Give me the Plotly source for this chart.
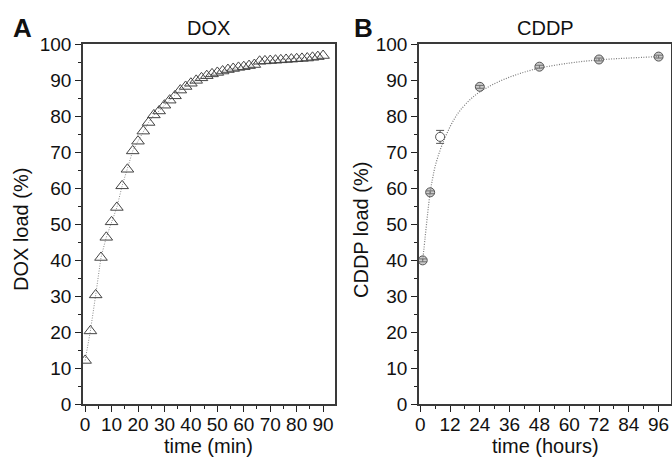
import plotly.graph_objects as go

# ---- Data ----
dox_time = list(range(0, 92, 2))
dox_load = [12.1, 20.3, 30.3, 40.7, 46.3, 50.6, 54.6, 60.6, 65.2, 70.3,
            73.0, 75.8, 78.2, 80.3, 81.4, 83.0, 84.4, 85.6, 87.2, 88.2,
            89.1, 89.9, 90.6, 91.2, 91.7, 92.1, 92.5, 92.9, 93.2, 93.5,
            93.7, 94.0, 94.3, 95.2, 95.3, 95.4, 95.5, 95.6, 95.7, 95.8,
            95.9, 96.0, 96.1, 96.3, 96.5, 96.8]

cddp_time = [1, 4, 8, 24, 48, 72, 96]
cddp_load = [39.9, 58.8, 74.2, 88.1, 93.7, 95.7, 96.5]
cddp_err = [0.4, 0.4, 1.8, 0.4, 0.4, 0.4, 0.4]

fit_time = [1, 2, 3, 4, 5, 6, 8, 10, 12, 14, 16, 20, 24, 30, 36, 42, 48, 60, 72, 84, 96]
fit_load = [40.0, 46.5, 53.0, 58.8, 62.7, 66.0, 70.5, 74.0, 77.0, 79.5, 81.5,
            84.5, 86.7, 89.0, 90.8, 92.2, 93.3, 94.7, 95.6, 96.1, 96.5]

FONT = "Liberation Sans"
W, H = 672, 457

fig = go.Figure()

fig.add_trace(go.Scatter(
    x=dox_time, y=dox_load, mode="lines+markers", xaxis="x", yaxis="y",
    line=dict(color="#8a8a8a", width=1, dash="1px,1.5px"),
    marker=dict(symbol="triangle-up-open", size=11, color="#444444",
                line=dict(width=1)),
    showlegend=False))

fig.add_trace(go.Scatter(
    x=fit_time, y=fit_load, mode="lines", xaxis="x2", yaxis="y2",
    line=dict(color="#7a7a7a", width=1.2, dash="1px,1.5px", shape="spline"),
    showlegend=False))

fig.add_trace(go.Scatter(
    x=cddp_time, y=cddp_load, mode="markers", xaxis="x2", yaxis="y2",
    error_y=dict(type="data", array=cddp_err, color="#555555", thickness=1, width=4),
    marker=dict(symbol="circle", size=9,
                color=["rgba(140,140,140,0.45)"] * 2 + ["white"] + ["rgba(140,140,140,0.45)"] * 4,
                line=dict(color="#555555", width=1)),
    showlegend=False))

def px(v):
    return v / W

def py(v):
    return 1 - v / H

axis_common = dict(
    showgrid=False, zeroline=False, showline=True, mirror=True, automargin=False,
    linecolor="#3a3a3a", linewidth=1.5,
    ticks="outside", ticklen=6, tickwidth=1.2, tickcolor="#222222",
    tickfont=dict(family=FONT, size=19, color="#111111"),
)
minor_common = dict(ticklen=3, ticks="outside", tickcolor="#222222", tickwidth=1)

fig.update_layout(
    width=W, height=H,
    margin=dict(l=0, r=0, t=0, b=0),
    paper_bgcolor="white", plot_bgcolor="white",
    xaxis=dict(domain=[px(83), px(335)], range=[-0.8, 94.5],
               tickmode="array", tickvals=list(range(0, 91, 10)),
               minor=dict(tickvals=list(range(5, 91, 10)), **minor_common),
               ticklabelstandoff=-4, anchor="y", **axis_common),
    yaxis=dict(domain=[py(404), py(44)], range=[0, 100],
               tickmode="array", tickvals=list(range(0, 101, 10)),
               minor=dict(tickvals=list(range(5, 100, 10)), **minor_common),
               anchor="x", **axis_common),
    xaxis2=dict(domain=[px(419), px(671)], range=[-0.5, 101.0],
                tickmode="array", tickvals=list(range(0, 97, 12)),
                minor=dict(tickvals=list(range(6, 97, 12)), **minor_common),
                ticklabelstandoff=-4, anchor="y2", **axis_common),
    yaxis2=dict(domain=[py(404), py(44)], range=[0, 100],
                tickmode="array", tickvals=list(range(0, 101, 10)),
                minor=dict(tickvals=list(range(5, 100, 10)), **minor_common),
                anchor="x2", **axis_common),
)

annots = [
    dict(text="<b>A</b>", x=22, y=28, size=26, angle=0),
    dict(text="<b>B</b>", x=363, y=28, size=26, angle=0),
    dict(text="DOX", x=208, y=28, size=20, angle=0),
    dict(text="CDDP", x=545, y=28, size=20, angle=0),
    dict(text="time (min)", x=208, y=446, size=20, angle=0),
    dict(text="time (hours)", x=545, y=446, size=20, angle=0),
    dict(text="DOX load (%)", x=21, y=230, size=20, angle=-90),
    dict(text="CDDP load (%)", x=361, y=230, size=20, angle=-90),
]
for a in annots:
    fig.add_annotation(text=a["text"], x=px(a["x"]), y=py(a["y"]), xref="paper", yref="paper",
                       showarrow=False, xanchor="center", yanchor="middle",
                       textangle=a["angle"],
                       font=dict(family=FONT, size=a["size"], color="#111111"))

fig.write_html("out.html",
               config={"displayModeBar": False},
               post_script="document.body.style.margin='0';document.body.style.overflow='hidden';")
